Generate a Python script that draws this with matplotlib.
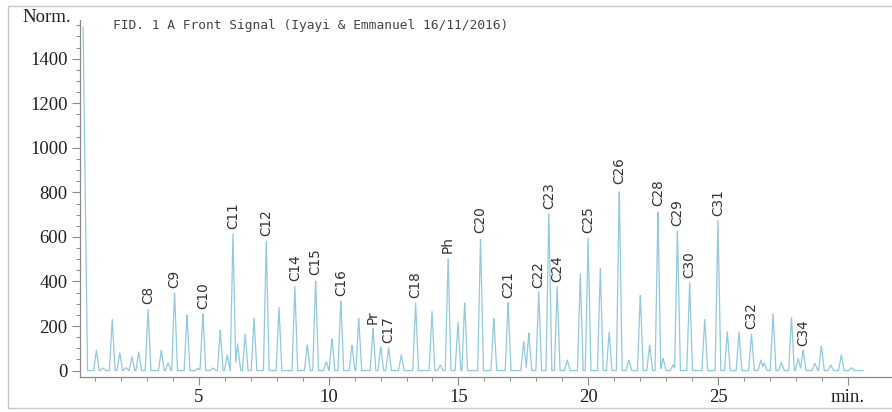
import numpy as np
import matplotlib
matplotlib.use("Agg")
import matplotlib.pyplot as plt
from matplotlib.patches import Rectangle

# peak retention times (min), heights (norm.) and labels ('' = unlabelled)
peak_times = [0.55, 1.06, 1.31, 1.67, 1.96, 2.20, 2.43, 2.69, 3.05, 3.56, 3.82,
              4.07, 4.55, 4.97, 5.16, 5.55, 5.83, 6.10, 6.32, 6.50, 6.79, 7.13,
              7.60, 8.09, 8.70, 9.18, 9.50, 9.91, 10.13, 10.47, 10.90, 11.16,
              11.71, 12.01, 12.31, 12.80, 13.35, 13.98, 14.30, 14.60, 14.98,
              15.24, 15.85, 16.36, 16.91, 17.51, 17.71, 18.09, 18.48, 18.80,
              19.19, 19.69, 19.99, 20.46, 20.80, 21.19, 21.56, 22.00, 22.36,
              22.68, 22.88, 23.26, 23.43, 23.90, 24.48, 24.99, 25.35, 25.80,
              26.28, 26.64, 26.77, 27.11, 27.43, 27.82, 28.08, 28.27, 28.72,
              28.97, 29.33, 29.74, 30.13]
peak_heights = [1542, 92, 12, 232, 80, 13, 62, 85, 280, 92, 34,
                354, 253, 10, 257, 12, 182, 70, 616, 120, 164, 237,
                586, 287, 384, 118, 411, 40, 145, 317, 115, 237,
                190, 107, 103, 70, 305, 269, 25, 511, 220,
                309, 601, 237, 309, 130, 170, 354, 706, 377,
                48, 437, 601, 466, 175, 818, 48, 344, 115,
                721, 55, 25, 631, 395, 230, 676, 175, 175,
                167, 48, 36, 260, 36, 242, 55, 92, 33,
                110, 25, 70, 13]
peak_labels = ['', '', '', '', '', '', '', '', 'C8', '', '',
               'C9', '', '', 'C10', '', '', '', 'C11', '', '', '',
               'C12', '', 'C14', '', 'C15', '', '', 'C16', '', '',
               'Pr', '', 'C17', '', 'C18', '', '', 'Ph', '',
               '', 'C20', '', 'C21', '', '', 'C22', 'C23', 'C24',
               '', '', 'C25', '', '', 'C26', '', '', '',
               'C28', '', '', 'C29', 'C30', '', 'C31', '', '',
               'C32', '', '', '', '', '', '', 'C34', '',
               '', '', '', '']
run_end = 30.57

x_ticks = [5, 10, 15, 20, 25, 30]
x_labels = ['5', '10', '15', '20', '25', 'min.']
y_ticks = [0, 200, 400, 600, 800, 1000, 1200, 1400]

line_color = '#92c9dc'
half_w = 0.11

# build the trace as a sum of narrow triangular peaks
t = np.linspace(peak_times[0], run_end, 6000)
signal = np.zeros_like(t)
for pt, ph in zip(peak_times[1:], peak_heights[1:]):
    tri = ph * np.clip(1 - np.abs(t - pt) / half_w, 0, None)
    signal = np.maximum(signal, tri)
# solvent front: starts at its top and falls to baseline
solvent = peak_heights[0] * np.clip(1 - (t - peak_times[0]) / 0.17, 0, None)
signal = np.maximum(signal, solvent)

fig = plt.figure(figsize=(8.92, 4.12), dpi=100)
ax = fig.add_axes([80 / 892, 35 / 412, 812 / 892, 357 / 412])

ax.plot(t, signal, color=line_color, lw=0.9)

for pt, ph, lab in zip(peak_times, peak_heights, peak_labels):
    if lab:
        ax.annotate(lab, (pt, ph), xytext=(0, 3), textcoords='offset points',
                    rotation=90, ha='center', va='bottom', fontsize=9.8,
                    color='#333333', family='DejaVu Sans')

ax.set_xlim(0.43, 31.69)
ax.set_ylim(-28.7, 1573.6)

ax.spines['top'].set_visible(False)
ax.spines['right'].set_visible(False)
for s in ('left', 'bottom'):
    ax.spines[s].set_color('#8a8a8a')
    ax.spines[s].set_linewidth(0.9)

serif = 'Liberation Serif'
ax.set_yticks(y_ticks)
ax.set_yticklabels([str(v) for v in y_ticks], family=serif, fontsize=13.5, color='#222222')
ax.set_yticks(np.arange(0, 1551, 50), minor=True)
ax.set_xticks(x_ticks)
ax.set_xticklabels(x_labels, family=serif, fontsize=13.5, color='#222222')
ax.set_xticks(np.arange(1, 31, 1), minor=True)
ax.tick_params(axis='both', which='major', length=6, width=0.8, color='#8a8a8a', pad=3)
ax.tick_params(axis='both', which='minor', length=3, width=0.7, color='#8a8a8a')

fig.text(47 / 892, 1 - 17 / 412, 'Norm.', ha='center', va='center',
         family=serif, fontsize=13.5, color='#222222')
fig.text(113 / 892, 1 - 26 / 412, 'FID. 1 A Front Signal (Iyayi & Emmanuel 16/11/2016)',
         ha='left', va='center', family='DejaVu Sans Mono', fontsize=9.3, color='#444444')

fig.patches.append(Rectangle((8 / 892, 4 / 412), 1.0, 402 / 412, transform=fig.transFigure,
                             fill=False, edgecolor='#c8c8c8', lw=1.0))

fig.savefig('out.png', dpi=100)
